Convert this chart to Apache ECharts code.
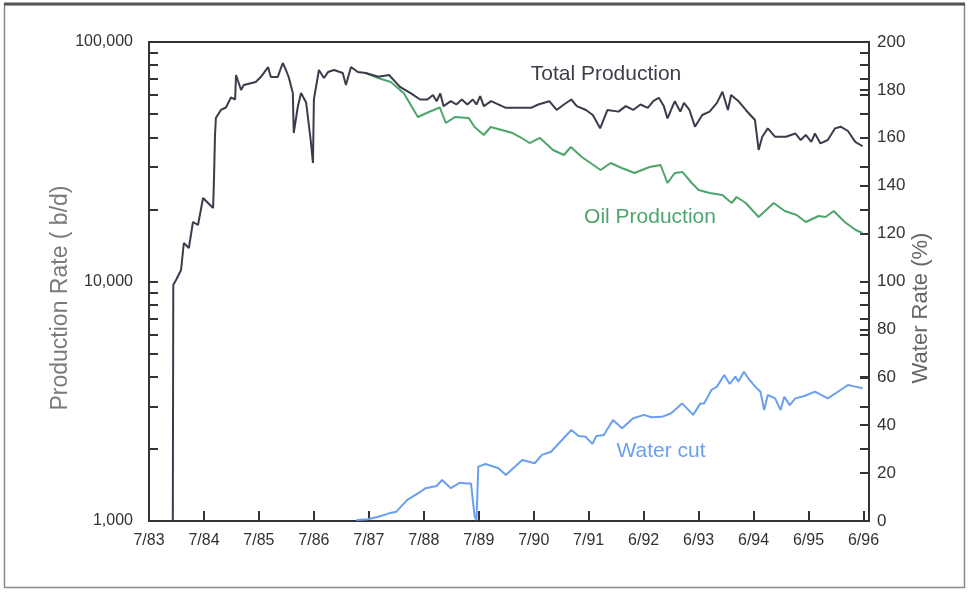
<!DOCTYPE html>
<html>
<head>
<meta charset="utf-8">
<script src="https://cdn.jsdelivr.net/npm/echarts@6/dist/echarts.min.js"></script>
<style>
  html, body { margin: 0; padding: 0; background: #fff; }
  #chart { width: 969px; height: 592px; }
</style>
</head>
<body>
<div id="chart"></div>
<script>
// Time axis: months elapsed since July 1983, one labelled tick per year.
const dateLabels = ['7/83', '7/84', '7/85', '7/86', '7/87', '7/88', '7/89', '7/90', '7/91', '6/92', '6/93', '6/94', '6/95', '6/96'];

// Total production rate (b/d)
const totalMonths = [5.2, 5.3, 5.9, 7.0, 7.6, 8.7, 9.6, 10.7, 11.8, 14.0, 14.2, 14.4, 14.6, 15.7, 16.8, 17.9, 18.8, 19.0, 20.1, 20.7,
  23.3, 24.4, 26.0, 26.6, 28.1, 29.2, 29.9, 30.5, 31.4, 31.6, 32.5, 33.2, 34.3, 35.3, 35.8, 36.0, 37.1, 38.2, 39.1, 40.4,
  42.3, 43.0, 44.1, 45.6, 47.3, 50.1, 52.4, 54.8, 57.2, 59.2, 60.8, 62.0, 62.8, 63.6, 64.3, 65.9, 67.1, 68.3, 69.5, 70.7,
  71.5, 72.3, 73.1, 74.7, 77.9, 83.4, 85.0, 87.4, 89.0, 90.6, 92.2, 93.4, 95.4, 96.9, 98.5, 100.1, 102.5, 104.1, 105.7, 107.3,
  108.9, 110.1, 111.3, 112.4, 113.2, 114.8, 116.0, 116.8, 118.0, 119.2, 120.8, 122.4, 124.0, 125.2, 126.4, 127.1, 128.7, 130.3, 132.3, 133.1,
  133.9, 135.1, 136.7, 139.1, 141.1, 142.3, 143.4, 144.6, 145.4, 146.6, 148.2, 149.8, 151.0, 152.6, 154.2, 155.8];
const totalRate = [1000, 9670, 10150, 11170, 14480, 13800, 17720, 17220, 22320, 20270, 27310, 40110, 48170, 52020, 53280, 58670, 57540, 72800, 63030, 66150,
  68100, 71400, 78600, 71400, 71400, 81700, 76400, 71400, 61240, 41690, 53800, 61240, 55900, 38970, 31250, 57540, 76400, 70750, 74900, 76400,
  74200, 66150, 78600, 74900, 74200, 71600, 72800, 65000, 61000, 57540, 57540, 60100, 56600, 61000, 54000, 56600, 54830, 57540, 54830, 57540,
  54830, 59400, 54000, 56600, 53100, 53100, 54830, 56600, 52020, 54830, 57540, 54000, 52020, 49580, 43600, 52020, 51200, 54000, 52020, 54830,
  53100, 56600, 58500, 54000, 48000, 56600, 51200, 55700, 52020, 44300, 49580, 51200, 55700, 62000, 52020, 60100, 56600, 52020, 47250, 35410,
  40200, 43600, 40200, 40200, 41500, 38970, 40900, 38300, 41500, 37700, 38970, 43600, 44300, 42500, 38300, 36700];

// Oil production rate (b/d)
const oilMonths = [47.3, 50.0, 52.8, 55.6, 58.7, 61.1, 63.5, 64.8, 66.8, 69.8, 71.1, 73.1, 74.6, 77.0, 79.4, 81.0, 83.1, 85.3, 88.2, 90.6,
  92.1, 94.5, 98.6, 100.8, 103.2, 106.0, 109.3, 111.7, 113.2, 114.8, 116.5, 118.5, 120.0, 122.4, 125.2, 127.2, 128.3, 130.3, 133.1, 136.4,
  138.8, 141.4, 143.4, 146.2, 147.7, 149.5, 151.9, 154.3, 155.8];
const oilRate = [74200, 70750, 68100, 61240, 48640, 51030, 53280, 45900, 48640, 48170, 44160, 40900, 44160, 42920, 41690, 40110, 37860, 39810, 35410, 33750,
  36440, 33100, 29220, 31250, 29780, 28380, 30070, 30650, 25780, 28380, 28650, 25780, 24100, 23410, 22970, 21270, 22530, 21270, 18590, 21270,
  19700, 18960, 17720, 18770, 18590, 19700, 17720, 16410, 15940];

// Water cut (%)
const waterMonths = [45.3, 47.7, 50.1, 52.4, 54.0, 56.4, 58.8, 60.4, 62.8, 64.0, 65.9, 67.9, 69.5, 70.3, 71.1, 71.5, 71.9, 73.5, 76.3, 77.9,
  81.5, 84.2, 85.8, 87.8, 89.8, 92.2, 93.8, 95.3, 96.8, 97.7, 99.3, 101.3, 103.3, 105.7, 108.1, 109.7, 112.0, 114.0, 116.4, 118.8,
  120.4, 121.2, 122.8, 124.0, 125.6, 126.8, 128.0, 128.7, 129.9, 131.1, 132.7, 133.5, 134.3, 135.1, 136.7, 137.9, 138.7, 139.9, 141.1, 143.1,
  145.4, 148.2, 151.0, 152.6, 154.2, 155.8];
const waterCut = [0.4, 0.7, 1.8, 3.2, 3.9, 8.8, 11.6, 13.7, 14.6, 17.1, 13.7, 16.0, 15.7, 15.7, 1.8, 0.4, 22.7, 23.8, 22.0, 19.2,
  25.5, 24.1, 27.6, 28.9, 33.1, 38.0, 35.5, 35.2, 32.2, 35.5, 35.9, 42.2, 38.7, 42.9, 44.3, 43.3, 43.5, 45.0, 49.1, 44.3,
  49.1, 49.1, 54.7, 56.1, 61.0, 57.2, 60.3, 58.2, 62.3, 58.9, 55.4, 54.0, 46.3, 52.6, 51.2, 46.3, 51.9, 48.4, 51.2, 52.2,
  54.0, 51.2, 54.7, 56.8, 56.1, 55.4];

// Tick marks of the logarithmic rate axis (1-9 in every decade)
const rateTicks = [1000, 2000, 3000, 4000, 5000, 6000, 7000, 8000, 9000,
  10000, 20000, 30000, 40000, 50000, 60000, 70000, 80000, 90000, 100000];

const pairs = (xs, ys) => xs.map((x, i) => [x, ys[i]]);

const FONT = "'Liberation Sans Narrow', 'Arial Narrow', 'Liberation Sans', Arial, sans-serif";
const INK = '#333333';
const TOTAL_COLOR = '#3b3b4b';
const OIL_COLOR = '#4ea56b';
const WATER_COLOR = '#6b9ff0';

const chart = echarts.init(document.getElementById('chart'), null, { renderer: 'canvas' });

chart.setOption({
  backgroundColor: '#ffffff',
  animation: false,
  grid: {
    left: 149, right: 100, top: 42, bottom: 71,
    show: true, borderColor: INK, borderWidth: 2, backgroundColor: 'transparent'
  },
  xAxis: {
    type: 'value',
    min: 0, max: 157.2, interval: 12,
    axisLine: { show: true, onZero: false, lineStyle: { color: INK, width: 2 } },
    axisTick: { show: true, inside: true, length: 10, lineStyle: { color: INK, width: 2 } },
    axisLabel: {
      margin: 12, color: INK, fontSize: 16, fontFamily: FONT,
      showMaxLabel: false,
      formatter: v => (Math.abs(v % 12) < 1e-6 ? (dateLabels[Math.round(v / 12)] || '') : '')
    },
    splitLine: { show: false }
  },
  yAxis: [
    {
      type: 'log', logBase: 10, min: 1000, max: 100000, position: 'left',
      axisLine: { show: true, lineStyle: { color: INK, width: 2 } },
      axisTick: { show: true, inside: true, length: 9, customValues: rateTicks, lineStyle: { color: INK, width: 2 } },
      axisLabel: {
        margin: 16, color: INK, fontSize: 16, fontFamily: FONT,
        formatter: v => Math.round(v).toLocaleString('en-US')
      },
      splitLine: { show: false }
    },
    {
      type: 'value', min: 0, max: 200, interval: 20, position: 'right',
      axisLine: { show: true, lineStyle: { color: INK, width: 2 } },
      axisTick: { show: true, inside: true, length: 9, lineStyle: { color: INK, width: 2 } },
      axisLabel: { margin: 8, color: INK, fontSize: 17, fontFamily: FONT },
      splitLine: { show: false }
    },
    {
      type: 'log', logBase: 10, min: 1000, max: 100000, position: 'right',
      axisLine: { show: false },
      axisTick: { show: true, inside: true, length: 9, customValues: rateTicks, lineStyle: { color: INK, width: 2 } },
      axisLabel: { show: false },
      splitLine: { show: false }
    }
  ],
  series: [
    {
      name: 'Total Production', type: 'line', yAxisIndex: 0,
      data: pairs(totalMonths, totalRate),
      showSymbol: false, lineStyle: { color: TOTAL_COLOR, width: 2 }, z: 3
    },
    {
      name: 'Oil Production', type: 'line', yAxisIndex: 0,
      data: pairs(oilMonths, oilRate),
      showSymbol: false, lineStyle: { color: OIL_COLOR, width: 2 }, z: 2
    },
    {
      name: 'Water cut', type: 'line', yAxisIndex: 1,
      data: pairs(waterMonths, waterCut),
      showSymbol: false, lineStyle: { color: WATER_COLOR, width: 2 }, z: 2
    }
  ],
  graphic: [
    {
      type: 'rect', silent: true, z: -1,
      shape: { x: 4.5, y: 4.5, width: 960, height: 583 },
      style: { fill: 'none', stroke: '#8a8a8a', lineWidth: 1.5 }
    },
    {
      type: 'line', silent: true,
      shape: { x1: 4, y1: 4, x2: 965, y2: 4 },
      style: { stroke: '#555555', lineWidth: 3 }
    },
    {
      type: 'text', x: 61, y: 298, rotation: Math.PI / 2,
      style: { text: 'Production Rate ( b/d)', fill: '#7a7a7a', font: '23px ' + FONT, textAlign: 'center', textVerticalAlign: 'middle' }
    },
    {
      type: 'text', x: 921, y: 308, rotation: Math.PI / 2,
      style: { text: 'Water Rate (%)', fill: '#666666', font: '22px ' + FONT, textAlign: 'center', textVerticalAlign: 'middle' }
    },
    {
      type: 'text', x: 606, y: 74,
      style: { text: 'Total Production', fill: '#3d3d4a', font: '21px ' + FONT, textAlign: 'center', textVerticalAlign: 'middle' }
    },
    {
      type: 'text', x: 650, y: 217,
      style: { text: 'Oil Production', fill: OIL_COLOR, font: '21px ' + FONT, textAlign: 'center', textVerticalAlign: 'middle' }
    },
    {
      type: 'text', x: 661, y: 451,
      style: { text: 'Water cut', fill: WATER_COLOR, font: '21px ' + FONT, textAlign: 'center', textVerticalAlign: 'middle' }
    }
  ]
});
</script>
</body>
</html>
